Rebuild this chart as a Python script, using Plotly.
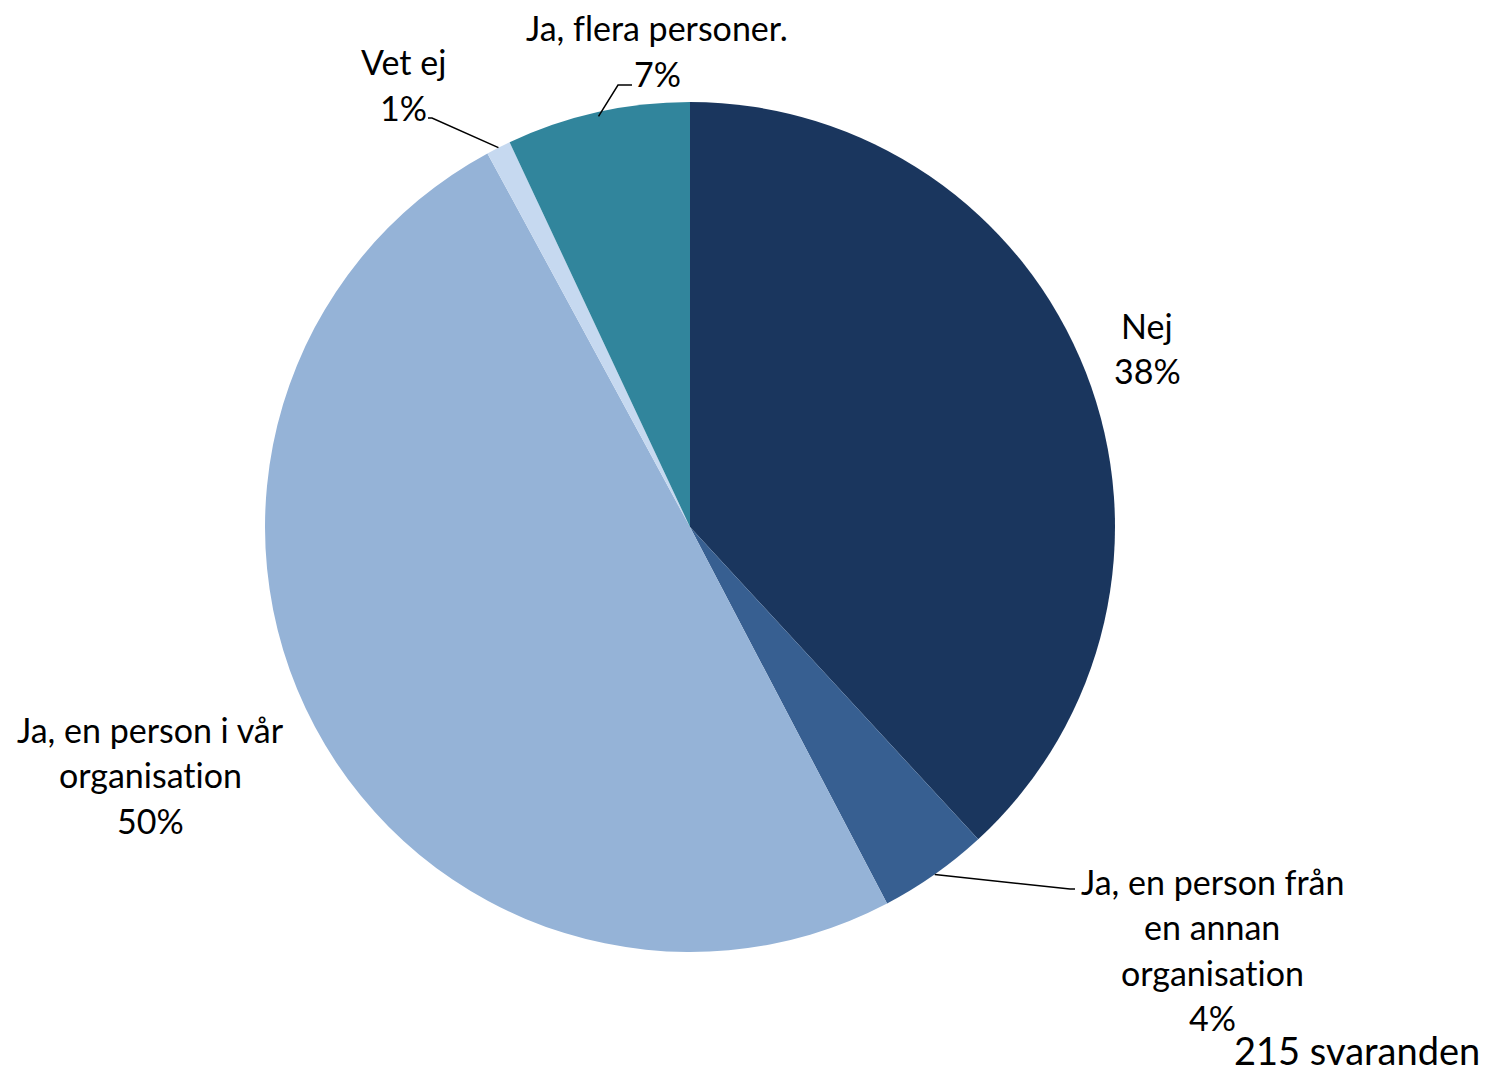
import math
import plotly.graph_objects as go

# ---- data ----
categories = ["Nej", "Ja, en person från en annan organisation",
              "Ja, en person i vår organisation", "Vet ej", "Ja, flera personer."]
counts = [82, 9, 107, 2, 15]
colors = ["#1A365E", "#375F91", "#95B3D7", "#C6D9F0", "#31859C"]
label_lines = [["Nej"], ["Ja, en person från", "en annan", "organisation"],
               ["Ja, en person i vår", "organisation"], ["Vet ej"], ["Ja, flera personer."]]
respondents_note = "215 svaranden"

W, H = 1490, 1074
CX, CY, R = 690, 527, 425  # pie centre / radius in px (layout)

total = sum(counts)
pcts = [c / total for c in counts]

fig = go.Figure(go.Pie(
    labels=categories, values=counts, sort=False, direction="clockwise",
    rotation=0, marker=dict(colors=colors, line=dict(width=0)),
    textinfo="none", hoverinfo="label+percent", showlegend=False,
    domain=dict(x=[(CX - R) / W, (CX + R) / W],
                y=[(H - CY - R) / H, (H - CY + R) / H]),
))

FONT = "Lato, Carlito, Calibri, sans-serif"
FS = 34
LINE = 45.5

# label anchor positions (px, first line centre) per slice
label_pos = [(1147, 325), (1212, 881), (150, 729), (403, 62), (657, 28)]

def to_paper(x, y):
    return x / W, 1 - y / H

ann = []
for i, (lines, (lx, ly)) in enumerate(zip(label_lines, label_pos)):
    texts = lines + [f"{round(pcts[i] * 100)}%"]
    for k, t in enumerate(texts):
        px, py = to_paper(lx, ly + k * LINE)
        ann.append(dict(x=px, y=py, xref="paper", yref="paper", text=t,
                        showarrow=False, xanchor="center", yanchor="middle",
                        font=dict(family=FONT, size=FS, color="#000")))

px, py = to_paper(1357, 1050)
ann.append(dict(x=px, y=py, xref="paper", yref="paper", text=respondents_note,
                showarrow=False, xanchor="center", yanchor="middle",
                font=dict(family=FONT, size=38, color="#000")))

# leader lines: from slice mid-angle on the rim to label
def rim_point(idx, rf=1.0):
    start = sum(pcts[:idx])
    mid = (start + pcts[idx] / 2) * 2 * math.pi
    return CX + R * rf * math.sin(mid), CY - R * rf * math.cos(mid)

leaders = {1: [(1070, 889), (1075, 889)], 3: [(432, 118), (428, 118)],
           4: [(618, 85), (632, 85)]}
shapes = []
for idx, pts in leaders.items():
    sx, sy = rim_point(idx, 1.0 if idx != 4 else 0.99)
    allp = [(sx, sy)] + pts
    path = "M " + " L ".join(f"{x / W:.5f},{1 - y / H:.5f}" for x, y in allp)
    shapes.append(dict(type="path", xref="paper", yref="paper", path=path,
                       line=dict(color="#000", width=1.5)))

fig.update_layout(width=W, height=H, margin=dict(l=0, r=0, t=0, b=0),
                  paper_bgcolor="white", plot_bgcolor="white",
                  annotations=ann, shapes=shapes)
fig.write_html("out.html", config={"displayModeBar": False})

# remove default browser body margin so the figure sits at the page origin
with open("out.html", encoding="utf-8") as f:
    html = f.read()
html = html.replace(
    "<head>",
    "<head><style>html,body{margin:0;padding:0;overflow:hidden;}"
    "text{font-variant-ligatures:none;font-feature-settings:'liga' 0;}</style>", 1)
with open("out.html", "w", encoding="utf-8") as f:
    f.write(html)
